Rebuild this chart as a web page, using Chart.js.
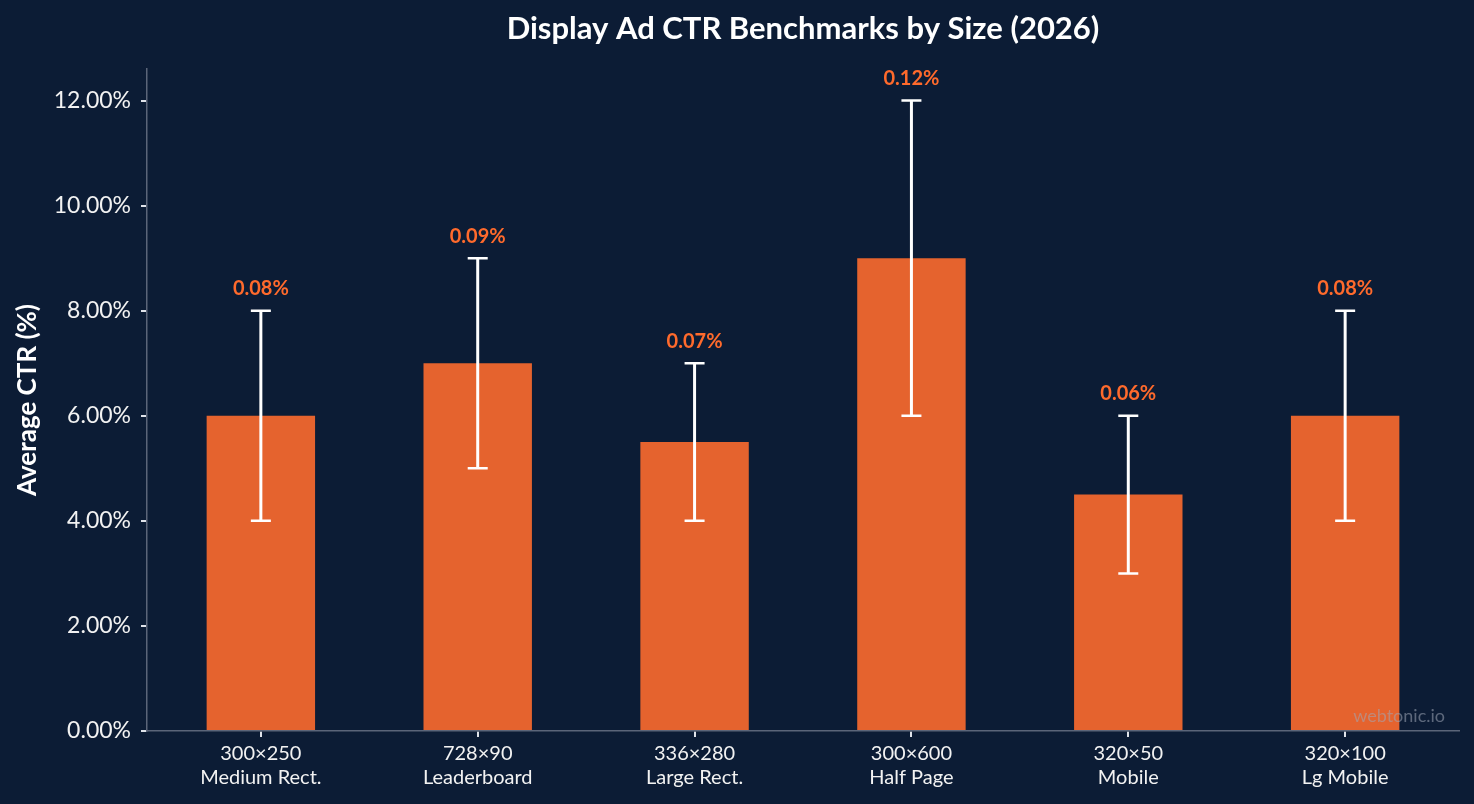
<!DOCTYPE html>
<html>
<head>
<meta charset="utf-8">
<title>Display Ad CTR Benchmarks by Size (2026)</title>
<script src="https://cdn.jsdelivr.net/npm/chart.js@4/dist/chart.umd.min.js"></script>
<style>
    html, body { margin: 0; padding: 0; background: #0c1c35; }
    #wrap { width: 1474px; height: 804px; position: relative; }
</style>
</head>
<body>
<div id="wrap"><canvas id="chart"></canvas></div>
<script>
// ad sizes and their names
var sizes = ["300×250", "728×90", "336×280", "300×600", "320×50", "320×100"];
var names = ["Medium Rect.", "Leaderboard", "Large Rect.", "Half Page", "Mobile", "Lg Mobile"];

// average CTR (%) and the low / high range
var avgCtr = [6, 7, 5.5, 9, 4.5, 6];
var lowCtr = [4, 5, 4, 6, 3, 4];
var highCtr = [8, 9, 7, 12, 6, 8];

// labels printed above each range
var topLabels = ["0.08%", "0.09%", "0.07%", "0.12%", "0.06%", "0.08%"];

// y axis ticks
var yTicks = [0, 2, 4, 6, 8, 10, 12];

var FONT = "Lato, 'Noto Sans', sans-serif";

// error bars + labels above them
var errorBars = {
    id: "errorBars",
    afterDatasetsDraw: function (chart) {
        var ctx = chart.ctx;
        var x = chart.scales.x, y = chart.scales.y;
        ctx.save();
        for (var i = 0; i < avgCtr.length; i++) {
            var px = x.getPixelForValue(i);
            var lo = y.getPixelForValue(lowCtr[i]);
            var hi = y.getPixelForValue(highCtr[i]);
            ctx.strokeStyle = "#ffffff";
            ctx.lineWidth = 3;
            ctx.beginPath();
            ctx.moveTo(px, lo); ctx.lineTo(px, hi);
            ctx.stroke();
            ctx.lineWidth = 2.5;
            ctx.beginPath();
            ctx.moveTo(px - 10, lo); ctx.lineTo(px + 10, lo);
            ctx.moveTo(px - 10, hi); ctx.lineTo(px + 10, hi);
            ctx.stroke();

            ctx.fillStyle = "#ff6a2c";
            ctx.font = "bold 20px " + FONT;
            ctx.textAlign = "center";
            ctx.textBaseline = "middle";
            ctx.fillText(topLabels[i], px, hi - 22);
        }
        ctx.restore();
    },
};

// title centred over the plot, plus the watermark
var decorations = {
    id: "decorations",
    afterDraw: function (chart) {
        var ctx = chart.ctx, a = chart.chartArea;
        ctx.save();
        ctx.fillStyle = "#ffffff";
        ctx.font = "bold 31px " + FONT;
        ctx.textAlign = "center";
        ctx.textBaseline = "middle";
        ctx.fillText("Display Ad CTR Benchmarks by Size (2026)", (a.left + a.right) / 2, 29);

        ctx.fillStyle = "rgba(160,168,182,0.55)";
        ctx.font = "18px " + FONT;
        ctx.textAlign = "right";
        ctx.fillText("webtonic.io", 1445, 716);
        ctx.restore();
    },
};

var ctx = document.getElementById("chart").getContext("2d");
var myChart = new Chart(ctx, {
    type: "bar",
    data: {
        datasets: [
            {
                label: "Average CTR (%)",
                data: avgCtr.map(function (v, i) { return { x: i, y: v }; }),
                backgroundColor: "#e5632e",
                borderWidth: 0,
                categoryPercentage: 0.5,
                barPercentage: 1,
            },
        ],
    },
    options: {
        responsive: true,
        maintainAspectRatio: false,
        animation: false,
        layout: { padding: { top: 69, right: 15, left: 0, bottom: 0 } },
        plugins: {
            legend: { display: false },
            tooltip: { enabled: false },
        },
        scales: {
            x: {
                type: "linear",
                offset: false,
                min: -0.525,
                max: 5.525,
                afterBuildTicks: function (scale) {
                    scale.ticks = sizes.map(function (_, i) { return { value: i }; });
                },
                afterFit: function (scale) { scale.height = 73; },
                ticks: {
                    color: "#f2f2f2",
                    font: { family: FONT, size: 20, lineHeight: 1.2 },
                    padding: 5,
                    maxRotation: 0,
                    autoSkip: false,
                    callback: function (v) {
                        return [sizes[v], names[v]];
                    },
                },
                grid: { offset: false, drawOnChartArea: false, drawTicks: true, tickLength: 6, color: "#dfe3ea", lineWidth: 2 },
                border: { color: "#5b6579", width: 1.5 },
            },
            y: {
                min: 0,
                max: 12.6,
                afterBuildTicks: function (scale) {
                    scale.ticks = yTicks.map(function (v) { return { value: v }; });
                },
                afterFit: function (scale) { scale.width = 147; },
                ticks: {
                    color: "#f2f2f2",
                    font: { family: FONT, size: 23 },
                    padding: 10,
                    callback: function (v) { return v.toFixed(2) + "%"; },
                },
                grid: { drawOnChartArea: false, drawTicks: true, tickLength: 6, color: "#dfe3ea", lineWidth: 2 },
                border: { color: "#5b6579", width: 1.5 },
                title: {
                    display: true,
                    text: "Average CTR (%)",
                    color: "#ffffff",
                    font: { family: FONT, size: 26, weight: "bold" },
                    padding: { top: 12, bottom: 0 },
                },
            },
        },
    },
    plugins: [errorBars, decorations],
});
</script>
</body>
</html>
